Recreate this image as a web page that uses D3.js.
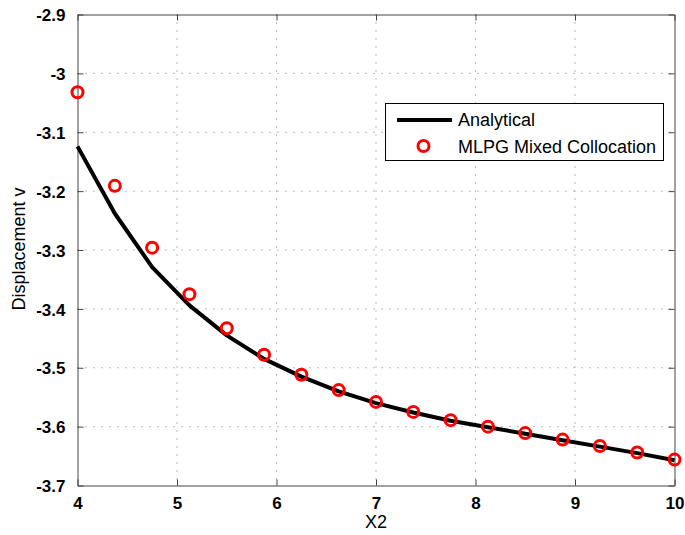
<!DOCTYPE html>
<html><head><meta charset="utf-8">
<script src="https://d3js.org/d3.v7.min.js"></script>
<style>body{margin:0;background:#fff}svg{display:block}text{font-family:"Liberation Sans",Arial,sans-serif}</style>
</head><body><svg id="c" width="685" height="535"></svg>
<script>
const xValues = [4, 4.375, 4.75, 5.125, 5.5, 5.875, 6.25, 6.625, 7, 7.375, 7.75, 8.125, 8.5, 8.875, 9.25, 9.625, 10];
const analytical = [-3.124, -3.238, -3.329, -3.394, -3.445, -3.485, -3.515, -3.540, -3.560, -3.576, -3.590, -3.601, -3.612, -3.623, -3.634, -3.645, -3.657];
const mlpg = [-3.032, -3.191, -3.296, -3.375, -3.433, -3.478, -3.512, -3.538, -3.558, -3.575, -3.589, -3.600, -3.611, -3.622, -3.633, -3.644, -3.656];
const xTicks = [4, 5, 6, 7, 8, 9, 10];
const yTicks = [-2.9, -3, -3.1, -3.2, -3.3, -3.4, -3.5, -3.6, -3.7];
const seriesNames = ["Analytical", "MLPG Mixed Collocation"];

const svg = d3.select("#c");
const L = 77.5, R = 674.5, T = 14.5, B = 485.5;
const x = d3.scaleLinear().domain([4, 10]).range([L, R]);
const y = d3.scaleLinear().domain([-3.7, -2.9]).range([B, T]);

// grid
const g = svg.append("g");
g.selectAll(".gx").data(xTicks.slice(1, -1)).enter().append("line")
  .attr("x1", d => x(d)).attr("x2", d => x(d)).attr("y1", T).attr("y2", B)
  .attr("stroke", "#777").attr("stroke-width", 1).attr("stroke-dasharray", "1,7");
g.selectAll(".gy").data(yTicks.slice(1, -1)).enter().append("line")
  .attr("y1", d => y(d)).attr("y2", d => y(d)).attr("x1", L).attr("x2", R)
  .attr("stroke", "#777").attr("stroke-width", 1).attr("stroke-dasharray", "1,7");

// axes
const fmt = d => String(d);
const ax = svg.append("g").attr("transform", `translate(0,${B})`)
  .call(d3.axisBottom(x).tickValues(xTicks).tickSizeInner(-6).tickSizeOuter(0).tickFormat(fmt));
const axT = svg.append("g").attr("transform", `translate(0,${T})`)
  .call(d3.axisTop(x).tickValues(xTicks).tickSizeInner(-6).tickSizeOuter(0).tickFormat(""));
const ay = svg.append("g").attr("transform", `translate(${L},0)`)
  .call(d3.axisLeft(y).tickValues(yTicks).tickSizeInner(-6).tickSizeOuter(0).tickPadding(12).tickFormat(fmt));
const ayR = svg.append("g").attr("transform", `translate(${R},0)`)
  .call(d3.axisRight(y).tickValues(yTicks).tickSizeInner(-6).tickSizeOuter(0).tickFormat(""));
[ax, axT, ay, ayR].forEach(a => {
  a.attr("font-size", null).attr("font-family", null);
  a.selectAll("path").attr("stroke", "#444").attr("stroke-width", 1);
  a.selectAll("line").attr("stroke", "#444");
  a.selectAll("text").style("font-size", "17px").style("font-weight", "bold").attr("fill", "#000")
    .style("font-family", "Liberation Sans, Arial, sans-serif");
});
ax.selectAll("text").attr("y", 23.5).attr("dy", 0);
ay.selectAll("text").attr("dy", "0.36em");

// labels
svg.append("text").attr("x", 376).attr("y", 528).attr("text-anchor", "middle")
  .attr("font-size", 18).text("X2");
svg.append("text").attr("transform", `translate(25,249) rotate(-90)`).attr("text-anchor", "middle")
  .attr("font-size", 18).text("Displacement v");

// line
const pts = xValues.map((d, i) => [d, analytical[i]]);
svg.append("path").datum(pts)
  .attr("d", d3.line().x(d => x(d[0])).y(d => y(d[1])))
  .attr("fill", "none").attr("stroke", "#000").attr("stroke-width", 4).attr("stroke-linejoin", "round");

// circles
svg.selectAll(".pt").data(xValues.map((d, i) => [d, mlpg[i]])).enter().append("circle")
  .attr("cx", d => x(d[0])).attr("cy", d => y(d[1])).attr("r", 5.5)
  .attr("fill", "none").attr("stroke", "#f00").attr("stroke-width", 3);

// legend
const lg = svg.append("g");
lg.append("rect").attr("x", 385.5).attr("y", 103.5).attr("width", 278).attr("height", 57)
  .attr("fill", "#fff").attr("stroke", "#000").attr("stroke-width", 1);
lg.append("line").attr("x1", 397).attr("x2", 452).attr("y1", 120).attr("y2", 120)
  .attr("stroke", "#000").attr("stroke-width", 4);
lg.append("text").attr("x", 458).attr("y", 125.5).attr("font-size", 18).text(seriesNames[0]);
lg.append("circle").attr("cx", 423.5).attr("cy", 146).attr("r", 5.5)
  .attr("fill", "none").attr("stroke", "#f00").attr("stroke-width", 3);
lg.append("text").attr("x", 458).attr("y", 152.5).attr("font-size", 18).text(seriesNames[1]);
</script></body></html>
